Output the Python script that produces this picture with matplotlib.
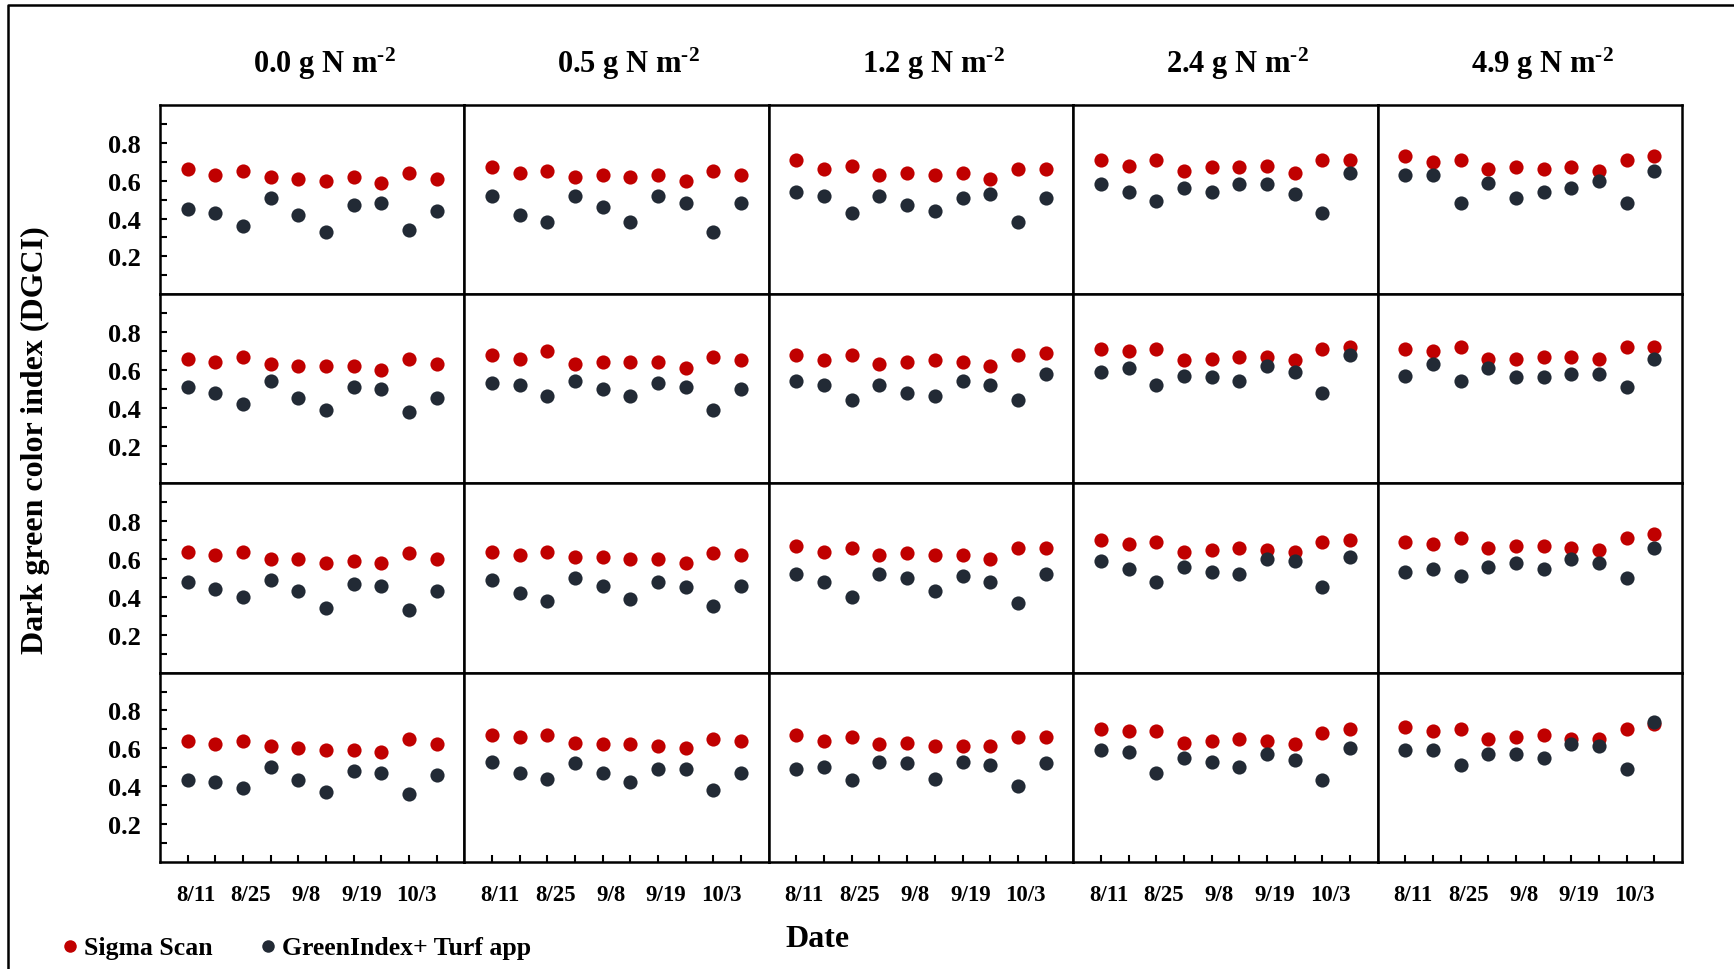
import numpy as np
import matplotlib
matplotlib.use("Agg")
import matplotlib.pyplot as plt
from matplotlib.lines import Line2D

plt.rcParams['font.family'] = ['Liberation Serif', 'DejaVu Serif']
plt.rcParams['font.weight'] = 'bold'
plt.rcParams['mathtext.fontset'] = 'custom'
plt.rcParams['mathtext.rm'] = 'Liberation Serif:bold'
plt.rcParams['mathtext.it'] = 'Liberation Serif:bold'
plt.rcParams['mathtext.bf'] = 'Liberation Serif:bold'

# tassi di azoto (colonne) e date di campionamento
rates = ['0.0', '0.5', '1.2', '2.4', '4.9']
date_labels = ['8/11', '8/25', '9/8', '9/19', '10/3']
n_dates = 10

# Sigma Scan, una lista per colonna, righe 1-4
sigma_1 = [[0.66, 0.63, 0.65, 0.62, 0.61, 0.60, 0.62, 0.59, 0.64, 0.61],
           [0.67, 0.64, 0.65, 0.62, 0.63, 0.62, 0.63, 0.60, 0.65, 0.63],
           [0.71, 0.66, 0.68, 0.63, 0.64, 0.63, 0.64, 0.61, 0.66, 0.66],
           [0.71, 0.68, 0.71, 0.65, 0.67, 0.67, 0.68, 0.64, 0.71, 0.71],
           [0.73, 0.70, 0.71, 0.66, 0.67, 0.66, 0.67, 0.65, 0.71, 0.73]]
sigma_2 = [[0.66, 0.64, 0.67, 0.63, 0.62, 0.62, 0.62, 0.60, 0.66, 0.63],
           [0.68, 0.66, 0.70, 0.63, 0.64, 0.64, 0.64, 0.61, 0.67, 0.65],
           [0.68, 0.65, 0.68, 0.63, 0.64, 0.65, 0.64, 0.62, 0.68, 0.69],
           [0.71, 0.70, 0.71, 0.65, 0.66, 0.67, 0.67, 0.65, 0.71, 0.72],
           [0.71, 0.70, 0.72, 0.66, 0.66, 0.67, 0.67, 0.66, 0.72, 0.72]]
sigma_3 = [[0.64, 0.62, 0.64, 0.60, 0.60, 0.58, 0.59, 0.58, 0.63, 0.60],
           [0.64, 0.62, 0.64, 0.61, 0.61, 0.60, 0.60, 0.58, 0.63, 0.62],
           [0.67, 0.64, 0.66, 0.62, 0.63, 0.62, 0.62, 0.60, 0.66, 0.66],
           [0.70, 0.68, 0.69, 0.64, 0.65, 0.66, 0.65, 0.64, 0.69, 0.70],
           [0.69, 0.68, 0.71, 0.66, 0.67, 0.67, 0.66, 0.65, 0.71, 0.73]]
sigma_4 = [[0.64, 0.62, 0.64, 0.61, 0.60, 0.59, 0.59, 0.58, 0.65, 0.62],
           [0.67, 0.66, 0.67, 0.63, 0.62, 0.62, 0.61, 0.60, 0.65, 0.64],
           [0.67, 0.64, 0.66, 0.62, 0.63, 0.61, 0.61, 0.61, 0.66, 0.66],
           [0.70, 0.69, 0.69, 0.63, 0.64, 0.65, 0.64, 0.62, 0.68, 0.70],
           [0.71, 0.69, 0.70, 0.65, 0.66, 0.67, 0.65, 0.65, 0.70, 0.73]]

# GreenIndex+ Turf app
green_1 = [[0.45, 0.43, 0.36, 0.51, 0.42, 0.33, 0.47, 0.48, 0.34, 0.44],
           [0.52, 0.42, 0.38, 0.52, 0.46, 0.38, 0.52, 0.48, 0.33, 0.48],
           [0.54, 0.52, 0.43, 0.52, 0.47, 0.44, 0.51, 0.53, 0.38, 0.51],
           [0.58, 0.54, 0.49, 0.56, 0.54, 0.58, 0.58, 0.53, 0.43, 0.64],
           [0.63, 0.63, 0.48, 0.59, 0.51, 0.54, 0.56, 0.60, 0.48, 0.65]]
green_2 = [[0.51, 0.48, 0.42, 0.54, 0.45, 0.39, 0.51, 0.50, 0.38, 0.45],
           [0.53, 0.52, 0.46, 0.54, 0.50, 0.46, 0.53, 0.51, 0.39, 0.50],
           [0.54, 0.52, 0.44, 0.52, 0.48, 0.46, 0.54, 0.52, 0.44, 0.58],
           [0.59, 0.61, 0.52, 0.57, 0.56, 0.54, 0.62, 0.59, 0.48, 0.68],
           [0.57, 0.63, 0.54, 0.61, 0.56, 0.56, 0.58, 0.58, 0.51, 0.66]]
green_3 = [[0.48, 0.44, 0.40, 0.49, 0.43, 0.34, 0.47, 0.46, 0.33, 0.43],
           [0.49, 0.42, 0.38, 0.50, 0.46, 0.39, 0.48, 0.45, 0.35, 0.46],
           [0.52, 0.48, 0.40, 0.52, 0.50, 0.43, 0.51, 0.48, 0.37, 0.52],
           [0.59, 0.55, 0.48, 0.56, 0.53, 0.52, 0.60, 0.59, 0.45, 0.61],
           [0.53, 0.55, 0.51, 0.56, 0.58, 0.55, 0.60, 0.58, 0.50, 0.66]]
green_4 = [[0.43, 0.42, 0.39, 0.50, 0.43, 0.37, 0.48, 0.47, 0.36, 0.46],
           [0.53, 0.47, 0.44, 0.52, 0.47, 0.42, 0.49, 0.49, 0.38, 0.47],
           [0.49, 0.50, 0.43, 0.53, 0.52, 0.44, 0.53, 0.51, 0.40, 0.52],
           [0.59, 0.58, 0.47, 0.55, 0.53, 0.50, 0.57, 0.54, 0.43, 0.60],
           [0.59, 0.59, 0.51, 0.57, 0.57, 0.55, 0.62, 0.61, 0.49, 0.74]]

sigma = [sigma_1, sigma_2, sigma_3, sigma_4]
green = [green_1, green_2, green_3, green_4]

red = '#c00000'
dark = '#222a35'
W, H = 1734, 970

fig = plt.figure(figsize=(W / 100, H / 100), dpi=100)

x = np.arange(1, n_dates + 1)
left0, top0 = 160, 106
pw, ph = 304.4, 189.2

for r in range(4):
    for c in range(5):
        ax = fig.add_axes([(left0 + c * pw) / W, 1 - (top0 + (r + 1) * ph) / H, pw / W, ph / H])
        ax.plot(x, sigma[r][c], 'o', ms=10.2, color=red, mec='none', zorder=3)
        ax.plot(x, green[r][c], 'o', ms=10.2, color=dark, mec='none', zorder=4)
        ax.set_xlim(0, 11)
        ax.set_ylim(0, 1)
        for s in ax.spines.values():
            s.set_linewidth(1.8)
            s.set_color('black')

        # asse y solo nella prima colonna
        if c == 0:
            ax.set_yticks(np.arange(0.1, 0.95, 0.1), minor=True)
            ax.set_yticks([0.2, 0.4, 0.6, 0.8])
            ax.set_yticklabels(['0.2', '0.4', '0.6', '0.8'])
            ax.tick_params(axis='y', which='both', direction='in', length=5, width=1.5,
                           labelsize=19, pad=14)
        else:
            ax.set_yticks([])

        # asse x solo nell'ultima riga
        if r == 3:
            ax.set_xticks(x)
            ax.set_xticklabels([])
            ax.set_xticks(np.arange(1, n_dates, 2) + 0.28, minor=True)
            ax.set_xticklabels(date_labels, minor=True)
            ax.tick_params(axis='x', which='major', direction='in', length=5, width=1.5)
            ax.tick_params(axis='x', which='minor', length=0, labelsize=16.5, pad=16)
        else:
            ax.set_xticks([])

        if r == 0:
            ax.text(0.54, 1.225, rates[c] + r' g N m$^{\text{-}2}$', transform=ax.transAxes,
                    ha='center', va='center', fontsize=22, fontweight='bold')

fig.text(35 / W, 1 - 440 / H, 'Dark green color index (DGCI)', rotation=90,
         ha='center', va='center', fontsize=23, fontweight='bold')
fig.text(818 / W, 1 - 940 / H, 'Date', ha='center', va='center', fontsize=23, fontweight='bold')

handles = [Line2D([], [], ls='none', marker='o', ms=9, color=red, mec='none'),
           Line2D([], [], ls='none', marker='o', ms=9, color=dark, mec='none')]
fig.legend(handles, ['Sigma Scan', 'GreenIndex+ Turf app'], loc='center left',
           bbox_to_anchor=(51 / W, 1 - 949 / H), ncol=2, frameon=False,
           handlelength=0.5, handletextpad=0.3, columnspacing=1.9, borderpad=0,
           prop={'size': 18.5, 'weight': 'bold'})

# cornice esterna
fig.add_artist(Line2D([8 / W, 8 / W, 1.0], [0.0, 1 - 6 / H, 1 - 6 / H],
                      transform=fig.transFigure, color='black', lw=1.8))

fig.savefig('out.png', dpi=100)
